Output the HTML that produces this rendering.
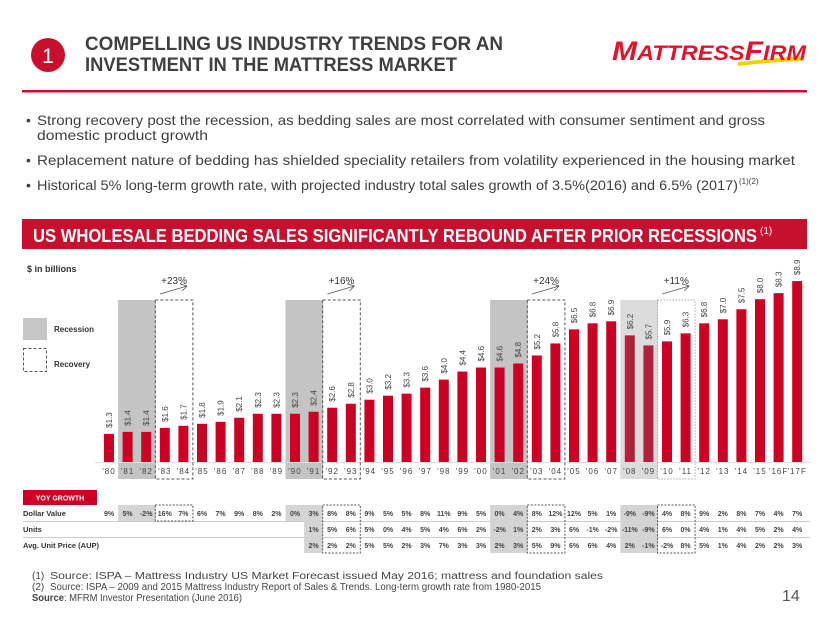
<!DOCTYPE html>
<html><head><meta charset="utf-8"><style>
html,body{margin:0;padding:0;background:#fff;}
svg{display:block;font-family:"Liberation Sans",sans-serif;}
</style></head><body>
<svg id="s" width="830" height="623" viewBox="0 0 830 623">
 <g>
  <circle cx="48" cy="55" r="17" fill="#c8102e"/>
  <text x="48" y="63" text-anchor="middle" fill="#fff" font-size="21">1</text>
  <text x="85" y="50" fill="#404040" font-size="19" font-weight="bold" textLength="418" lengthAdjust="spacingAndGlyphs">COMPELLING US INDUSTRY TRENDS FOR AN</text>
  <text x="85" y="71" fill="#404040" font-size="19" font-weight="bold" textLength="372" lengthAdjust="spacingAndGlyphs">INVESTMENT IN THE MATTRESS MARKET</text>
  <g>
   <path d="M 738 62 Q 775 58 805 56 L 802 61 Q 770 62 738 66 Z" fill="#f5d000"/>
   <text x="612" y="60" fill="#e3122b" font-size="27" font-weight="bold" font-style="italic" textLength="194" lengthAdjust="spacingAndGlyphs">M<tspan font-size="21">ATTRESS</tspan>F<tspan font-size="21">IRM</tspan></text>
  </g>
  <rect x="22" y="90" width="785" height="2.5" fill="#c8102e"/>
 </g>
 <g fill="#404040" font-size="14">
  <text x="26" y="125">•</text>
  <text x="37" y="125" textLength="728" lengthAdjust="spacingAndGlyphs">Strong recovery post the recession, as bedding sales are most correlated with consumer sentiment and gross</text>
  <text x="37" y="140" textLength="171" lengthAdjust="spacingAndGlyphs">domestic product growth</text>
  <text x="26" y="165">•</text>
  <text x="37" y="165" textLength="758" lengthAdjust="spacingAndGlyphs">Replacement nature of bedding has shielded speciality retailers from volatility experienced in the housing market</text>
  <text x="26" y="190">•</text>
  <text x="37" y="190" textLength="701" lengthAdjust="spacingAndGlyphs">Historical 5% long-term growth rate, with projected industry total sales growth of 3.5%(2016) and 6.5% (2017)</text>
  <text x="739" y="184" font-size="8">(1)(2)</text>
 </g>
 <g>
  <rect x="22" y="219" width="785" height="30" fill="#c8102e"/>
  <text x="33" y="242" fill="#fff" font-size="18" font-weight="bold" textLength="724" lengthAdjust="spacingAndGlyphs">US WHOLESALE BEDDING SALES SIGNIFICANTLY REBOUND AFTER PRIOR RECESSIONS</text>
  <text x="760" y="234" fill="#fff" font-size="10">(1)</text>
 </g>
 <text x="27" y="272" font-size="9" font-weight="bold" fill="#333">$ in billions</text>
 <g>
  <rect x="23" y="318" width="24" height="22" fill="#c6c6c6"/>
  <text x="54" y="332" font-size="8" font-weight="bold" fill="#333">Recession</text>
  <rect x="23.5" y="348.5" width="23" height="23" fill="none" stroke="#555" stroke-dasharray="3,2"/>
  <text x="54" y="367" font-size="8" font-weight="bold" fill="#333">Recovery</text>
 </g>
 <g id="shades"></g>
 <g id="bars"></g>
 <g id="table"></g>
 <g id="boxes"></g>
 <g fill="#444" font-size="10">
  <text x="32" y="579">(1)</text>
  <text x="50" y="579" textLength="553" lengthAdjust="spacingAndGlyphs">Source: ISPA – Mattress Industry US Market Forecast issued May 2016; mattress and foundation sales</text>
  <text x="32" y="590">(2)</text>
  <text x="50" y="590" textLength="491" lengthAdjust="spacingAndGlyphs">Source: ISPA – 2009 and 2015 Mattress Industry Report of Sales &amp; Trends. Long-term growth rate from 1980-2015</text>
  <text x="32" y="601" textLength="210" lengthAdjust="spacingAndGlyphs"><tspan font-weight="bold">Source</tspan>: MFRM Investor Presentation  (June 2016)</text>
 </g>
 <text x="782" y="601" font-size="16" fill="#555">14</text>
</svg>
<script>
const years = ["'80","'81","'82","'83","'84","'85","'86","'87","'88","'89","'90","'91","'92","'93","'94","'95","'96","'97","'98","'99","'00","'01","'02","'03","'04","'05","'06","'07","'08","'09","'10","'11","'12","'13","'14","'15","'16F","'17F"];
const sales = [1.3,1.4,1.4,1.6,1.7,1.8,1.9,2.1,2.3,2.3,2.3,2.4,2.6,2.8,3.0,3.2,3.3,3.6,4.0,4.4,4.6,4.6,4.8,5.2,5.8,6.5,6.8,6.9,6.2,5.7,5.9,6.3,6.8,7.0,7.5,8.0,8.3,8.9];
const dollarGrowth = [9,5,-2,16,7,6,7,9,8,2,0,3,8,8,9,5,5,8,11,9,5,0,4,8,12,12,5,1,-9,-9,4,8,9,2,8,7,4,7];
const unitGrowth = [1,5,6,5,0,4,5,4,6,2,-2,1,2,3,6,-1,-2,-11,-9,6,0,4,1,4,5,2,4];
const aupGrowth = [2,2,2,5,5,2,3,7,3,3,2,3,5,9,6,6,4,2,-1,-2,8,5,1,4,2,2,3];
const recessions = [[1,2],[10,11],[21,22],[28,29]];
const recoveries = [[3,4,"+23%"],[12,13,"+16%"],[23,24,"+24%"],[30,31,"+11%"]];

const NS="http://www.w3.org/2000/svg";
const X0=109, STEP=18.6, BASE=462;
function xAt(i){return X0+i*STEP;}
function hOf(v){return 20.1*v+2;}
function mk(tag,attrs,parent){const e=document.createElementNS(NS,tag);for(const k in attrs)e.setAttribute(k,attrs[k]);parent.appendChild(e);return e;}
const shades=document.getElementById('shades'),bars=document.getElementById('bars'),table=document.getElementById('table'),boxes=document.getElementById('boxes');

recessions.forEach((r,k)=>{
  const x1=xAt(r[0])-9.5,x2=xAt(r[1])+9.5;
  const light=k===3;
  const s=mk('rect',{x:x1,y:300,width:x2-x1,height:179,fill:light?'#dcdcdc':'#c4c4c4'},shades);
  
  
});
mk('line',{x1:95,y1:462.5,x2:810,y2:462.5,stroke:'#ddd','stroke-width':1},bars);

sales.forEach((v,i)=>{
  const h=hOf(v), x=xAt(i);
  const dark=(i===28||i===29);
  const b=mk('rect',{x:x-5,y:BASE-h,width:10,height:h,fill:dark?'#b1213a':'#cc0022'},bars);
  
  
  const ty=BASE-h-6;
  const t=mk('text',{x:x+3,y:ty,'font-size':8,fill:'#444',transform:`rotate(-90 ${x+3} ${ty})`},bars);
  t.textContent='$'+v.toFixed(1);
  
  
  const yl=mk('text',{x:x,y:474,'font-size':8,fill:'#444','text-anchor':'middle','letter-spacing':'1'},bars);
  yl.textContent=years[i];
  
  
});

recoveries.forEach(r=>{
  const x1=xAt(r[0])-9.5,x2=xAt(r[1])+9.5;
  const bx=mk('rect',{x:x1,y:300,width:x2-x1,height:179,fill:'none',stroke:r[2]==='+11%'?'#aaa':'#555','stroke-dasharray':r[2]==='+11%'?'1.5,1.5':'3,2'},boxes);
  
  
  const cx=(x1+x2)/2;
  const lt=mk('text',{x:cx,y:284,'font-size':10,fill:'#333','text-anchor':'middle'},boxes);
  lt.textContent=r[2];
  
  
  mk('path',{d:`M${cx-14} 294 L${cx+13} 286 M${cx+13} 286 L${cx+6} 284 M${cx+13} 286 L${cx+8} 291`,stroke:'#555',fill:'none','stroke-width':0.8},boxes);
});

// table
const yb=mk('rect',{x:23,y:490,width:74,height:15,fill:'#cc0022'},table);


const ybt=mk('text',{x:60,y:500.5,'font-size':7,'font-weight':'bold',fill:'#fff','text-anchor':'middle'},table);
ybt.textContent='YOY GROWTH';
const rowY=[513,529,545];
const rowNames=['Dollar Value','Units','Avg. Unit Price (AUP)'];
[[20,521],[20,537]].forEach(l=>mk('line',{x1:23,y1:l[1]+0.5,x2:810,y2:l[1]+0.5,stroke:'#ccc'},table));
// table shading for recessions
recessions.forEach((r,k)=>{
  for(let row=0;row<3;row++){
    const startIdx=row===0?0:11;
    const a=Math.max(r[0],startIdx); if(a>r[1])continue;
    const x1=xAt(a)-9.5,x2=xAt(r[1])+9.5;
    mk('rect',{x:x1,y:rowY[row]-8,width:x2-x1,height:16,fill:'#d4d4d4'},table);
  }
});
rowNames.forEach((n,r)=>{
  const t=mk('text',{x:23,y:rowY[r]+3,'font-size':7.5,'font-weight':'bold',fill:'#333'},table);
  t.textContent=n;
  
  
});
function drawRow(arr,start,r){
  arr.forEach((v,j)=>{
    const t=mk('text',{x:xAt(start+j),y:rowY[r]+3,'font-size':7,'font-weight':'bold',fill:'#444','text-anchor':'middle'},table);
    t.textContent=v+'%';
    
    
  });
}
drawRow(dollarGrowth,0,0);
drawRow(unitGrowth,11,1);
drawRow(aupGrowth,11,2);
recoveries.forEach(r=>{
  const x1=xAt(r[0])-9.5,x2=xAt(r[1])+9.5;
  const h=r[0]===3?16:48;
  const b=mk('rect',{x:x1,y:505,width:x2-x1,height:h,fill:'none',stroke:'#555','stroke-dasharray':'2,1.5'},table);
  
  
});
</script>
</body></html>
